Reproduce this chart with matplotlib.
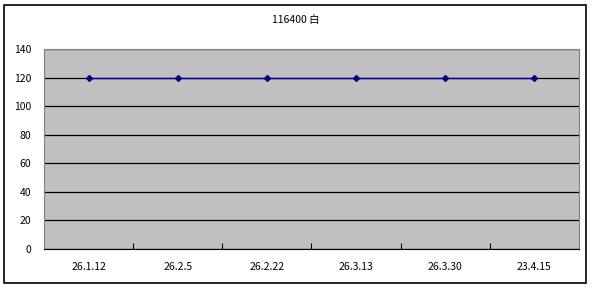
import matplotlib.pyplot as plt
from matplotlib.patches import Rectangle

plt.rcParams['font.family'] = ['Noto Sans CJK JP', 'DejaVu Sans']

dates = ["26.1.12", "26.2.5", "26.2.22", "26.3.13", "26.3.30", "23.4.15"]
values = [120, 120, 120, 120, 120, 120]
title = "116400 白"

W, H = 592, 288
fig = plt.figure(figsize=(W / 100, H / 100), dpi=100)
fig.patch.set_facecolor("white")
fig.patches.append(Rectangle((4 / W, 5 / H), 582 / W, 278 / H, transform=fig.transFigure,
                             fill=False, edgecolor="black", linewidth=1.2))

ax = fig.add_axes([44 / W, 1 - 249 / H, (579 - 44) / W, (249 - 49) / H])
ax.set_facecolor("#C0C0C0")
x = list(range(len(dates)))
ax.plot(x, values, color="#0000A0", linewidth=1, marker="D", markersize=3,
        markerfacecolor="#000080", markeredgecolor="#000080", zorder=3)

ax.set_xlim(-0.5, len(dates) - 0.5)
ax.set_ylim(0, 140)
ax.set_yticks(range(0, 141, 20))
ax.set_xticks(x)
ax.set_xticklabels(dates)
ax.set_xticks([i + 0.5 for i in x[:-1]], minor=True)
ax.tick_params(axis="x", which="major", length=0, labelsize=7.5, pad=9)
ax.tick_params(axis="x", which="minor", length=4, direction="in", width=0.8)
ax.tick_params(axis="y", length=0, labelsize=7.5, pad=9)
ax.yaxis.grid(True, color="black", linewidth=0.9)
ax.set_axisbelow(True)
for s in ["top", "right"]:
    ax.spines[s].set_color("#808080")
ax.spines["left"].set_color("#808080")
ax.spines["bottom"].set_color("black")

fig.text(0.5, 1 - 20 / H, title, ha="center", va="center", fontsize=7.5)

fig.savefig("out.png", dpi=100)
